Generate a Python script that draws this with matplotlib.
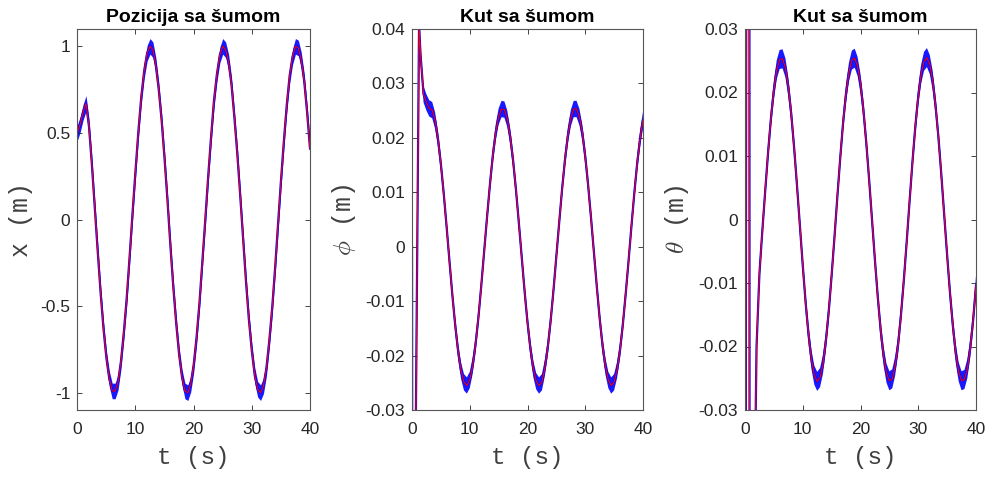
import numpy as np
import matplotlib
matplotlib.use('Agg')
import matplotlib.pyplot as plt
from matplotlib.ticker import FuncFormatter

# ---------------- data ----------------
# common time grid (s), 0.5 s steps
t_grid = np.arange(0, 40.01, 0.5)

# position x (m) at t = 0, 0.5, ..., 40
x_vals = [0.50, 0.55, 0.62, 0.67, 0.54, 0.32, 0.07, -0.18, -0.42, -0.63,
          -0.80, -0.92, -0.99, -0.99, -0.94, -0.82, -0.65, -0.45, -0.21, 0.04,
          0.28, 0.51, 0.71, 0.86, 0.96, 1.00, 0.98, 0.89, 0.75, 0.57,
          0.35, 0.11, -0.15, -0.39, -0.60, -0.78, -0.91, -0.99, -1.00, -0.95,
          -0.84, -0.68, -0.48, -0.24, 0.00, 0.25, 0.48, 0.69, 0.84, 0.95,
          1.00, 0.98, 0.91, 0.78, 0.59, 0.38, 0.14, -0.11, -0.36, -0.58,
          -0.76, -0.90, -0.98, -1.00, -0.96, -0.86, -0.70, -0.51, -0.28, -0.03,
          0.22, 0.45, 0.66, 0.83, 0.94, 1.00, 0.99, 0.92, 0.80, 0.62, 0.41]

# angle phi: start-up transient, then values at t = 3.0, 3.5, ..., 40
phi_t_start = [0.0, 0.05, 0.45, 1.22, 1.5, 2.0, 2.5]
phi_start = [0.0, -0.06, -0.06, 0.0405, 0.035, 0.028, 0.0265]
phi_rest = [0.0254, 0.0251, 0.0232, 0.0198, 0.0152, 0.0097, 0.0036, -0.0028, -0.0090, -0.0146,
            -0.0193, -0.0228, -0.0249, -0.0255, -0.0245, -0.0219, -0.0180, -0.0130, -0.0071, -0.0008,
            0.0055, 0.0115, 0.0168, 0.0210, 0.0239, 0.0253, 0.0252, 0.0235, 0.0203, 0.0159,
            0.0105, 0.0044, -0.0019, -0.0082, -0.0139, -0.0187, -0.0224, -0.0247, -0.0255, -0.0249,
            -0.0223, -0.0186, -0.0137, -0.0080, -0.0017, 0.0046, 0.0107, 0.0161, 0.0205, 0.0236,
            0.0253, 0.0253, 0.0238, 0.0209, 0.0166, 0.0113, 0.0053, -0.0010, -0.0073, -0.0132,
            -0.0182, -0.0220, -0.0245, -0.0255, -0.0249, -0.0227, -0.0192, -0.0144, -0.0087, -0.0026,
            0.0038, 0.0099, 0.0154, 0.0199, 0.0233]

# angle theta: start-up transient, then values at t = 3.0, 3.5, ..., 40
theta_t_start = [0.0, 0.05, 0.3, 0.75, 0.8, 1.8, 2.0, 2.5]
theta_start = [0.0, -0.1, 0.1, 0.1, -0.1, -0.034, -0.020, -0.0085]
theta_rest = [-0.0018, 0.0045, 0.0106, 0.0160, 0.0204, 0.0236, 0.0252, 0.0253, 0.0239, 0.0209,
              0.0167, 0.0114, 0.0054, -0.0009, -0.0072, -0.0131, -0.0181, -0.0220, -0.0245, -0.0255,
              -0.0249, -0.0228, -0.0192, -0.0145, -0.0088, -0.0027, 0.0037, 0.0098, 0.0154, 0.0199,
              0.0232, 0.0251, 0.0254, 0.0241, 0.0214, 0.0173, 0.0121, 0.0062, -0.0001, -0.0064,
              -0.0123, -0.0175, -0.0215, -0.0242, -0.0254, -0.0251, -0.0231, -0.0198, -0.0151, -0.0096,
              -0.0035, 0.0029, 0.0091, 0.0147, 0.0194, 0.0229, 0.0249, 0.0255, 0.0244, 0.0219,
              0.0179, 0.0129, 0.0070, 0.0007, -0.0056, -0.0116, -0.0168, -0.0211, -0.0240, -0.0254,
              -0.0252, -0.0235, -0.0203, -0.0159, -0.0104]

# half-width of the blue noise band seen around the red curve
noise_x = 0.045
noise_phi = 0.0015
noise_theta = 0.0015

titles = ['Pozicija sa šumom', 'Kut sa šumom', 'Kut sa šumom']
ylabels = ['x (m)', r'$\phi$ (m)', r'$\theta$ (m)']
xlabel = 't (s)'
yticks_list = [[-1, -0.5, 0, 0.5, 1],
               [-0.03, -0.02, -0.01, 0, 0.01, 0.02, 0.03, 0.04],
               [-0.03, -0.02, -0.01, 0, 0.01, 0.02, 0.03]]
ylims = [(-1.1, 1.1), (-0.03, 0.04), (-0.03, 0.03)]
xticks = [0, 10, 20, 30, 40]

# ---------------- figure ----------------
plt.rcParams['axes.unicode_minus'] = False
plt.rcParams['mathtext.fontset'] = 'cm'

fig = plt.figure(figsize=(9.9, 4.79), dpi=100)
W, H = 990, 479
boxes = [(77.3, 310), (412, 643), (745, 976)]
top_px, bot_px = 29, 410

series = [
    (t_grid, np.array(x_vals), noise_x),
    (np.concatenate([phi_t_start, t_grid[6:]]), np.array(phi_start + phi_rest), noise_phi),
    (np.concatenate([theta_t_start, t_grid[6:]]), np.array(theta_start + theta_rest), noise_theta),
]

axcol = '#262626'
ylabel_x = [33, 358, 691]

def fmt(v, pos):
    s = ('%.2f' % v).rstrip('0').rstrip('.')
    if s in ('-0', ''):
        s = '0'
    return s

for i, ((l, r), (tt, yy, nz)) in enumerate(zip(boxes, series)):
    ax = fig.add_axes([l / W, (H - bot_px) / H, (r - l) / W, (bot_px - top_px) / H])
    ax.fill_between(tt, yy - nz, yy + nz, color='#0000ff', lw=0, alpha=0.9)
    ax.plot(tt, yy, color='#0000ff', lw=1.6)
    ax.plot(tt, yy, color='#ff0000', lw=0.8)
    ax.set_xlim(0, 40)
    ax.set_ylim(*ylims[i])
    ax.set_xticks(xticks)
    ax.set_yticks(yticks_list[i])
    ax.yaxis.set_major_formatter(FuncFormatter(fmt))
    ax.tick_params(direction='in', length=3.5, width=0.6, colors=axcol,
                   labelsize=12.5, top=True, right=True)
    ax.tick_params(axis='x', pad=9)
    ax.tick_params(axis='y', pad=5)
    for lab in ax.get_xticklabels() + ax.get_yticklabels():
        lab.set_fontfamily('Liberation Sans')
    for sp in ax.spines.values():
        sp.set_color('#555555')
        sp.set_linewidth(0.8)
    ax.set_title(titles[i], fontsize=14, fontweight='bold', family='Liberation Sans',
                 pad=5, color='black')
    ax.set_xlabel(xlabel, fontsize=17.5, family='Liberation Mono', color='#404040', labelpad=6)
    ax.set_ylabel(ylabels[i], fontsize=18, family='Liberation Mono', color='#404040')
    ax.yaxis.set_label_coords((ylabel_x[i] - l) / (r - l), 0.5)

fig.savefig('out.png', dpi=100)
